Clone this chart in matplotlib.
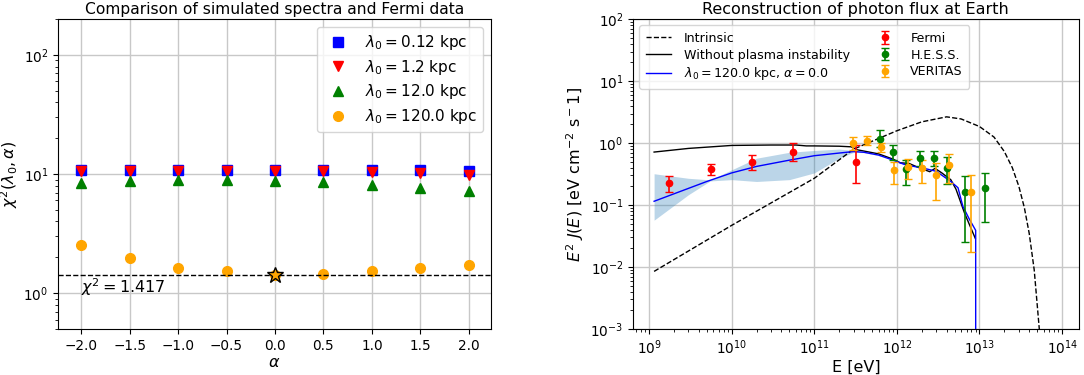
import numpy as np
import matplotlib
matplotlib.use("Agg")
import matplotlib.pyplot as plt

# ---------------- Left panel data ----------------
alpha = [-2.0, -1.5, -1.0, -0.5, 0.0, 0.5, 1.0, 1.5, 2.0]
chi_012 = [10.8, 10.8, 10.8, 10.8, 10.8, 10.8, 10.8, 10.8, 10.7]
chi_12 = [10.6, 10.6, 10.6, 10.6, 10.6, 10.6, 10.5, 10.2, 9.8]
chi_120 = [8.4, 8.8, 9.0, 9.0, 8.8, 8.6, 8.1, 7.7, 7.2]
chi_1200 = [2.52, 1.96, 1.64, 1.54, 1.417, 1.46, 1.53, 1.62, 1.72]
chi_best = 1.417
alpha_best = 0.0

# ---------------- Right panel data ----------------
fermi_E = [1.76e9, 5.57e9, 1.78e10, 5.57e10, 3.22e11]
fermi_F = [0.227, 0.381, 0.489, 0.73, 0.50]
fermi_lo = [0.16, 0.31, 0.37, 0.51, 0.23]
fermi_hi = [0.29, 0.46, 0.64, 1.02, 0.94]

hess_E = [6.2e11, 8.9e11, 1.3e12, 1.9e12, 2.8e12, 4.1e12, 6.6e12, 1.16e13]
hess_F = [1.16, 0.707, 0.38, 0.58, 0.566, 0.395, 0.16, 0.188]
hess_lo = [0.88, 0.54, 0.21, 0.42, 0.43, 0.22, 0.025, 0.053]
hess_hi = [1.6, 0.92, 0.54, 0.75, 0.75, 0.59, 0.29, 0.33]

ver_E = [2.97e11, 4.34e11, 6.4e11, 9.3e11, 1.37e12, 2.0e12, 2.95e12, 4.33e12, 7.8e12]
ver_F = [1.0, 1.10, 0.87, 0.363, 0.41, 0.39, 0.30, 0.44, 0.164]
ver_lo = [0.78, 0.94, 0.71, 0.22, 0.26, 0.23, 0.119, 0.23, 0.0175]
ver_hi = [1.25, 1.28, 1.02, 0.49, 0.55, 0.54, 0.48, 0.66, 0.31]

intr_E = [1.15e9, 1e10, 1e11, 3e11, 1e12, 2e12, 4e12, 6e12, 1e13, 1.5e13, 2e13,
          2.5e13, 3e13, 3.5e13, 4e13, 4.6e13, 5.3e13, 5.6e13]
intr_F = [0.0085, 0.047, 0.27, 0.80, 1.58, 2.2, 2.65, 2.45, 1.85, 1.25, 0.73,
          0.4, 0.2, 0.09, 0.035, 0.009, 0.001, 0.0004]

noinst_E = [1.15e9, 3e9, 1e10, 3e10, 6e10, 8e10, 1e11, 2e11, 2.8e11, 3.3e11, 6e11,
            9e11, 1.1e12, 1.4e12, 1.7e12, 2.5e12, 2.9e12, 3.5e12, 4.5e12,
            5.2e12, 6.6e12, 8.9e12]
noinst_F = [0.716, 0.82, 0.916, 0.93, 0.93, 0.90, 0.90, 0.89, 0.87, 0.78, 0.67,
            0.55, 0.48, 0.47, 0.42, 0.345, 0.39, 0.33, 0.256,
            0.18, 0.074, 0.029]

best_E = [1.15e9, 5e9, 1e10, 2e10, 5e10, 1e11, 2e11, 3e11, 4e11, 6e11, 9e11,
          1.3e12, 2e12, 3e12, 4.5e12, 5.5e12, 6.3e12, 7.6e12, 9.0e12, 9.0e12]
best_F = [0.115, 0.24, 0.33, 0.42, 0.53, 0.625, 0.69, 0.73, 0.71, 0.64, 0.53,
          0.44, 0.40, 0.35, 0.24, 0.19, 0.095, 0.058, 0.039, 1e-4]

band_E = [1.15e9, 3e9, 5.5e9, 1e10, 2e10, 5e10, 1e11, 2e11, 3e11, 4e11, 5e11, 7e11]
band_lo = [0.057, 0.147, 0.245, 0.257, 0.24, 0.257, 0.33, 0.57, 0.71, 0.70, 0.66, 0.60]
band_hi = [0.32, 0.27, 0.255, 0.37, 0.57, 0.71, 0.76, 0.80, 0.76, 0.72, 0.67, 0.61]

fig = plt.figure(figsize=(10.84, 3.75), dpi=100)
ax1 = fig.add_axes([0.0535, 0.1227, 0.3995, 0.8263])
ax2 = fig.add_axes([0.584, 0.1227, 0.411, 0.8263])

TICK = 9.8
LAB = 11.5

# ---- left ----
ax1.set_yscale('log')
ax1.grid(True, color='#c8c8c8', linewidth=1.0)
ax1.set_axisbelow(True)
ms = 7
ax1.plot(alpha, chi_012, 's', color='blue', ms=ms, ls='none', label=r'$\lambda_0 = 0.12$ kpc')
ax1.plot(alpha, chi_12, 'v', color='red', ms=ms, ls='none', label=r'$\lambda_0 = 1.2$ kpc')
ax1.plot(alpha, chi_120, '^', color='green', ms=ms, ls='none', label=r'$\lambda_0 = 12.0$ kpc')
ax1.plot(alpha, chi_1200, 'o', color='orange', ms=ms, ls='none', label=r'$\lambda_0 = 120.0$ kpc')
ax1.axhline(chi_best, color='black', ls='--', lw=1.0)
ax1.plot([alpha_best], [chi_best], '*', color='orange', mec='black', mew=1.0, ms=12)
ax1.text(-2.0, 1.13, r'$\chi^2 = 1.417$', fontsize=11.5, ha='left', va='center')
ax1.set_xlim(-2.24, 2.23)
ax1.set_ylim(0.5, 200)
ax1.set_xticks(alpha)
ax1.set_xlabel(r'$\alpha$', fontsize=LAB, labelpad=2)
ax1.set_ylabel(r'$\chi^2(\lambda_0, \alpha)$', fontsize=LAB)
ax1.yaxis.set_label_coords(-0.088, 0.5)
ax1.set_title('Comparison of simulated spectra and Fermi data', fontsize=11.2, pad=4)
ax1.tick_params(labelsize=TICK)
ax1.legend(loc='upper right', fontsize=11, handletextpad=0.75, borderpad=0.4,
           labelspacing=0.38, markerscale=1.0)

# ---- right ----
ax2.set_xscale('log')
ax2.set_yscale('log')
ax2.grid(True, color='#c8c8c8', linewidth=1.0)
ax2.set_axisbelow(True)
ax2.fill_between(band_E, band_lo, band_hi, color='tab:blue', alpha=0.3, lw=0)
ax2.plot(intr_E, intr_F, 'k--', lw=1.0, label='Intrinsic')
ax2.plot(noinst_E, noinst_F, 'k-', lw=1.0, label='Without plasma instability')
ax2.plot(best_E, best_F, '-', color='blue', lw=1.0,
         label=r'$\lambda_0 = 120.0$ kpc, $\alpha = 0.0$')
def eb(E, F, lo, hi, c, lab):
    F = np.array(F); lo = np.array(lo); hi = np.array(hi)
    ax2.errorbar(E, F, yerr=[F - lo, hi - F], fmt='o', color=c, ms=4.5,
                 capsize=3, elinewidth=1.2, label=lab)
eb(fermi_E, fermi_F, fermi_lo, fermi_hi, 'red', 'Fermi')
eb(hess_E, hess_F, hess_lo, hess_hi, 'green', 'H.E.S.S.')
eb(ver_E, ver_F, ver_lo, ver_hi, 'orange', 'VERITAS')
ax2.set_xlim(10**8.806, 10**14.2)
ax2.set_ylim(1e-3, 1e2)
ax2.set_xlabel('E [eV]', fontsize=LAB, labelpad=2)
ax2.set_ylabel(r'$E^2\ J(E)$ [eV cm$^{-2}$ s$^-1$]', fontsize=LAB)
ax2.yaxis.set_label_coords(-0.105, 0.5)
ax2.set_title('Reconstruction of photon flux at Earth', fontsize=11.5, pad=4)
ax2.tick_params(labelsize=TICK)
ax2.legend(loc='upper left', ncol=2, fontsize=9.1, handletextpad=1.0,
           columnspacing=1.8, borderpad=0.5, labelspacing=0.3)

fig.savefig('out.png', dpi=100)
